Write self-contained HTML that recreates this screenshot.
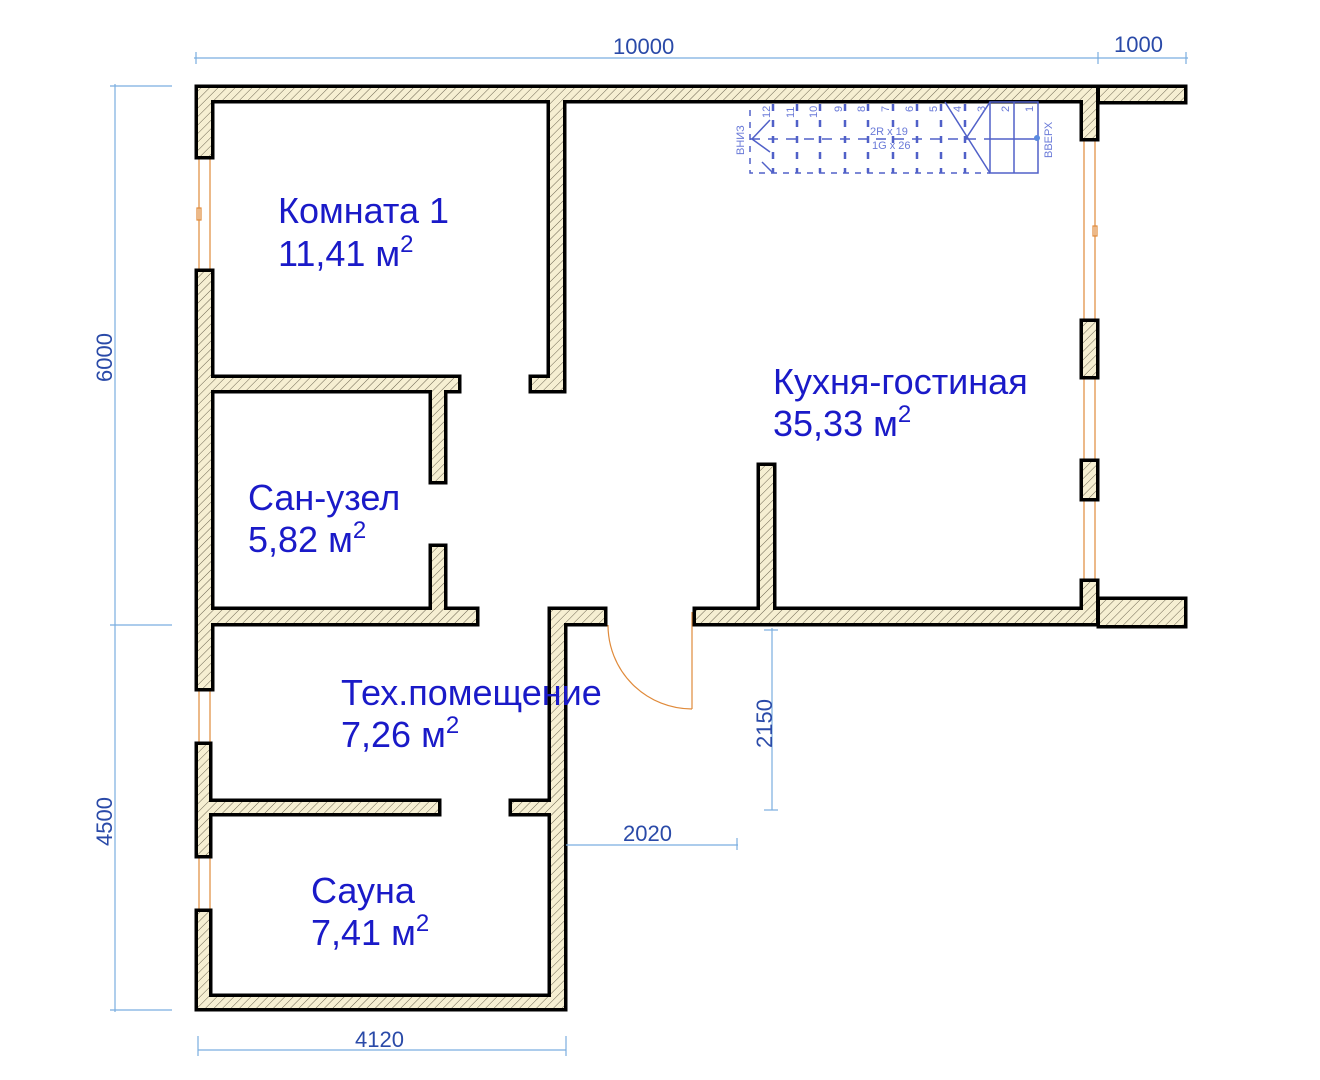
<!DOCTYPE html>
<html><head><meta charset="utf-8"><style>
html,body{margin:0;padding:0;background:#fff;}
svg{display:block}
.t{font-family:"Liberation Sans",sans-serif;fill:#1a1ac8;font-size:36px}
.d{font-family:"Liberation Sans",sans-serif;fill:#2a4aa8;font-size:22px}
.s{font-family:"Liberation Sans",sans-serif;fill:#6a7ad8;font-size:11px}
</style></head><body>
<svg width="1320" height="1080" viewBox="0 0 1320 1080" xmlns="http://www.w3.org/2000/svg">
<defs>
<pattern id="h" patternUnits="userSpaceOnUse" width="6" height="6" patternTransform="rotate(45)">
<rect width="6" height="6" fill="#f6efd2"/><line x1="0" y1="0" x2="0" y2="6" stroke="#6b6450" stroke-width="1"/>
</pattern>
<g id="walls" transform="translate(0,0)">
<rect x="198" y="88" width="898" height="12"/>
<rect x="1100" y="88" width="84" height="13"/>
<rect x="198" y="88" width="13" height="68"/>
<rect x="198" y="272" width="13" height="416"/>
<rect x="198" y="745" width="11" height="110"/>
<rect x="198" y="912" width="11" height="96"/>
<rect x="198" y="997" width="366" height="11"/>
<rect x="551" y="610" width="13" height="398"/>
<rect x="551" y="610" width="53" height="13"/>
<rect x="198" y="610" width="278" height="13"/>
<rect x="696" y="610" width="400" height="13"/>
<rect x="1100" y="600" width="84" height="25"/>
<rect x="1083" y="88" width="13" height="50"/>
<rect x="1083" y="322" width="13" height="54"/>
<rect x="1083" y="462" width="13" height="36"/>
<rect x="1083" y="582" width="13" height="41"/>
<rect x="550" y="88" width="13" height="302"/>
<rect x="532" y="378" width="31" height="12"/>
<rect x="198" y="378" width="260" height="12"/>
<rect x="432" y="378" width="12" height="103"/>
<rect x="432" y="547" width="12" height="66"/>
<rect x="760" y="466" width="13" height="146"/>
<rect x="198" y="802" width="240" height="11"/>
<rect x="512" y="802" width="46" height="11"/>
</g>
</defs>
<!-- windows -->
<g stroke="#e08a3a" stroke-width="1.2" fill="none">
<line x1="199" y1="158" x2="199" y2="270"/><line x1="210" y1="158" x2="210" y2="270"/>
<rect x="197" y="208" width="4" height="12"/>
<line x1="199" y1="690" x2="199" y2="743"/><line x1="210" y1="690" x2="210" y2="743"/>
<line x1="199" y1="857" x2="199" y2="910"/><line x1="210" y1="857" x2="210" y2="910"/>
<line x1="1084" y1="140" x2="1084" y2="320"/><line x1="1095" y1="140" x2="1095" y2="320"/>
<rect x="1093" y="226" width="4" height="10"/>
<line x1="1084" y1="378" x2="1084" y2="460"/><line x1="1095" y1="378" x2="1095" y2="460"/>
<line x1="1084" y1="500" x2="1084" y2="580"/><line x1="1095" y1="500" x2="1095" y2="580"/>
<path d="M608 625 A84 84 0 0 0 692 709" />
<line x1="692" y1="612" x2="692" y2="709"/>
</g>
<use href="#walls" fill="#000" stroke="#000" stroke-width="7"/>
<use href="#walls" fill="url(#h)" stroke="none"/>
<!-- stairs -->
<g stroke="#5060c8" stroke-width="1.5" fill="none">
<path d="M750 110 V173 H990" stroke-dasharray="6 6"/>
<path d="M750 139 H990" stroke-dasharray="10 8"/>
<g stroke-dasharray="7 9" stroke-width="2.5">
<line x1="773" y1="104" x2="773" y2="173"/><line x1="797" y1="104" x2="797" y2="173"/><line x1="820" y1="104" x2="820" y2="173"/><line x1="845" y1="104" x2="845" y2="173"/><line x1="868" y1="104" x2="868" y2="173"/><line x1="893" y1="104" x2="893" y2="173"/><line x1="917" y1="104" x2="917" y2="173"/><line x1="941" y1="104" x2="941" y2="173"/><line x1="965" y1="104" x2="965" y2="173"/>
</g>
<line x1="945" y1="102" x2="990" y2="173"/>
<line x1="965" y1="140" x2="990" y2="102"/>
<rect x="990" y="102" width="48" height="71"/>
<line x1="990" y1="139" x2="1038" y2="139"/>
<line x1="1014" y1="102" x2="1014" y2="173"/>
<line x1="752" y1="139" x2="770" y2="120"/><line x1="752" y1="139" x2="770" y2="152"/>
<line x1="762" y1="162" x2="772" y2="172"/>
</g>
<circle cx="1037" cy="138" r="3" fill="#5a8ae0"/>
<text class="s" transform="translate(744,155) rotate(-90)">ВНИЗ</text>
<text class="s" transform="translate(1052,158) rotate(-90)">ВВЕРХ</text>
<text class="s" x="870" y="135">2R x 19</text>
<text class="s" x="872" y="149">1G x 26</text>
<g class="s"><text transform="translate(770,118) rotate(-90)">12</text><text transform="translate(794,118) rotate(-90)">11</text><text transform="translate(817,118) rotate(-90)">10</text><text transform="translate(842,112) rotate(-90)">9</text><text transform="translate(865,112) rotate(-90)">8</text><text transform="translate(889,112) rotate(-90)">7</text><text transform="translate(913,112) rotate(-90)">6</text><text transform="translate(937,112) rotate(-90)">5</text><text transform="translate(961,112) rotate(-90)">4</text><text transform="translate(985,112) rotate(-90)">3</text><text transform="translate(1009,112) rotate(-90)">2</text><text transform="translate(1033,112) rotate(-90)">1</text></g>
<!-- dimensions -->
<g stroke="#7aaee0" stroke-width="1.2">
<line x1="194" y1="58" x2="1188" y2="58"/>
<line x1="196" y1="52" x2="196" y2="64"/><line x1="1098" y1="52" x2="1098" y2="64"/><line x1="1186" y1="52" x2="1186" y2="64"/>
<line x1="115" y1="84" x2="115" y2="1012"/>
<line x1="110" y1="86" x2="172" y2="86"/><line x1="110" y1="625" x2="172" y2="625"/><line x1="110" y1="1010" x2="172" y2="1010"/>
<line x1="198" y1="1050" x2="566" y2="1050"/>
<line x1="198" y1="1036" x2="198" y2="1056"/><line x1="566" y1="1036" x2="566" y2="1056"/>
<line x1="772" y1="628" x2="772" y2="810"/><line x1="764" y1="630" x2="778" y2="630"/><line x1="764" y1="810" x2="778" y2="810"/>
<line x1="566" y1="845" x2="738" y2="845"/><line x1="737" y1="838" x2="737" y2="850"/>
</g>
<text class="d" x="613" y="54">10000</text>
<text class="d" x="1114" y="52">1000</text>
<text class="d" x="355" y="1047">4120</text>
<text class="d" x="623" y="841">2020</text>
<text class="d" transform="translate(112,382) rotate(-90)">6000</text>
<text class="d" transform="translate(112,846) rotate(-90)">4500</text>
<text class="d" transform="translate(772,748) rotate(-90)">2150</text>
<!-- labels -->
<text class="t" x="278" y="223">Комната 1</text>
<text class="t" x="278" y="266">11,41 м<tspan font-size="24" dy="-14">2</tspan></text>
<text class="t" x="773" y="394">Кухня-гостиная</text>
<text class="t" x="773" y="436">35,33 м<tspan font-size="24" dy="-14">2</tspan></text>
<text class="t" x="248" y="510">Сан-узел</text>
<text class="t" x="248" y="552">5,82 м<tspan font-size="24" dy="-14">2</tspan></text>
<text class="t" x="341" y="705">Тех.помещение</text>
<text class="t" x="341" y="747">7,26 м<tspan font-size="24" dy="-14">2</tspan></text>
<text class="t" x="311" y="903">Сауна</text>
<text class="t" x="311" y="945">7,41 м<tspan font-size="24" dy="-14">2</tspan></text>
</svg>
</body></html>
